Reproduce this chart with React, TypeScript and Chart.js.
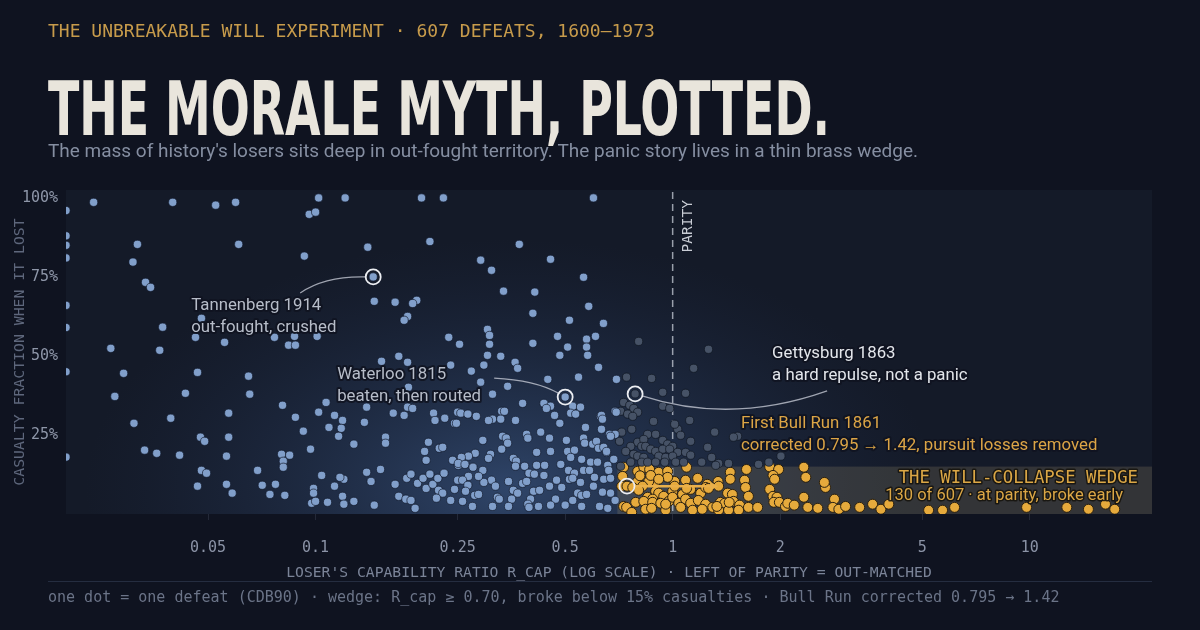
import React, { useEffect, useRef } from 'react';
import { Chart, registerables } from 'chart.js';

Chart.register(...registerables);

// ---------- text ----------
const KICKER = 'THE UNBREAKABLE WILL EXPERIMENT · 607 DEFEATS, 1600–1973';
const TITLE = 'THE MORALE MYTH, PLOTTED.';
const SUBTITLE = "The mass of history's losers sits deep in out-fought territory. The panic story lives in a thin brass wedge.";
const FOOTER = 'one dot = one defeat (CDB90) · wedge: R_cap ≥ 0.70, broke below 15% casualties · Bull Run corrected 0.795 → 1.42';
const X_TITLE = "LOSER'S CAPABILITY RATIO R_CAP (LOG SCALE) · LEFT OF PARITY = OUT-MATCHED";
const Y_TITLE = 'CASUALTY FRACTION WHEN IT LOST';
const PARITY_LABEL = 'PARITY';
const WEDGE_TITLE = 'THE WILL-COLLAPSE WEDGE';
const WEDGE_NOTE = '130 of 607 · at parity, broke early';

// ---------- axes ----------
const X_TICKS = [0.05, 0.1, 0.25, 0.5, 1, 2, 5, 10];
const X_TICK_LABELS = ['0.05', '0.1', '0.25', '0.5', '1', '2', '5', '10'];
const Y_TICKS = [25, 50, 75, 100];
const Y_TICK_LABELS = ['25%', '50%', '75%', '100%'];
const X_MIN = 0.02;
const X_MAX = 22;
const Y_MIN = 0;
const Y_MAX = 102.5;
const PARITY = 1;
const WEDGE_MIN_R = 0.7;
const WEDGE_MAX_C = 15;

// ---------- annotated battles ----------
const NOTE_TITLES = ['Tannenberg 1914', 'Waterloo 1815', 'Gettysburg 1863', 'First Bull Run 1861'];
const NOTE_LINES = ['out-fought, crushed', 'beaten, then routed', 'a hard repulse, not a panic', 'corrected 0.795 → 1.42, pursuit losses removed'];
const NOTE_R = [0.145, 0.5, 0.785, 0.745];
const NOTE_C = [75, 37, 38, 8.8];
const BULL_RUN_SHIFT_R = [0.745, 1.34];
const BULL_RUN_C = 8.8;

// ---------- defeats: [R_cap, casualty %] ----------
// out-matched losers (R_cap < 0.70)
const OUT_MATCHED: number[][] = [
  [0.02, 96], [0.02, 88], [0.02, 85], [0.02, 81], [0.02, 66], [0.02, 59], [0.02, 45], [0.02, 18],
  [0.0239, 98.6], [0.0398, 98.6], [0.0525, 97.7], [0.0597, 98.6], [0.102, 100], [0.121, 100], [0.096, 94.8], [0.1, 95.5],
  [0.0317, 85.3], [0.0609, 85.3], [0.14, 84.4], [0.093, 81.6], [0.0308, 79.7], [0.0334, 73.3], [0.0345, 71.7], [0.146, 67.3],
  [0.167, 67], [0.145, 75],
  [0.0479, 61.9], [0.0373, 59.1], [0.0461, 55.9], [0.0556, 54.3], [0.0767, 55.9], [0.0873, 56.2], [0.101, 56.2], [0.084, 53.4],
  [0.0878, 53.4], [0.0267, 52.4], [0.0366, 51.8], [0.171, 49.9], [0.153, 48.3], [0.0467, 44.8], [0.029, 44.5], [0.0649, 43.6],
  [0.0432, 38.2], [0.0654, 37.9], [0.0274, 37.2], [0.107, 35.3], [0.0808, 34.4], [0.139, 33.8], [0.0571, 31.9], [0.102, 32.2],
  [0.113, 31.2], [0.119, 29.6], [0.165, 31.9], [0.137, 29], [0.0878, 30.6], [0.0393, 30.3], [0.031, 28.7], [0.109, 27.4],
  [0.118, 27.1], [0.0924, 26.2], [0.0476, 24.3], [0.0489, 23], [0.0571, 24.3], [0.116, 24.6], [0.157, 24.3], [0.157, 22.4], [0.128, 22.1],
  [0.0332, 20.2], [0.0359, 19.2], [0.0416, 18.6], [0.0563, 18.3], [0.0803, 18.9], [0.0846, 18.6], [0.0812, 16.7], [0.0812, 14.8],
  [0.0968, 20.5], [0.0479, 13.8], [0.0495, 12.9], [0.0688, 13.8], [0.139, 13.2], [0.152, 14.1], [0.104, 12.2], [0.143, 10.3],
  [0.12, 11], [0.117, 11.6], [0.0467, 8.8], [0.0563, 9.4], [0.0584, 6.6], [0.0709, 9.1], [0.0745, 6.2], [0.0772, 9.4],
  [0.082, 5.9], [0.0987, 8.1], [0.0987, 6.6], [0.113, 8.8], [0.167, 9.4], [0.171, 5.6], [0.119, 5.6], [0.0975, 3.4],
  [0.1, 4], [0.108, 3.7], [0.12, 3.1], [0.128, 4], [0.146, 2.8],
  [0.198, 100], [0.228, 100], [0.6, 100], [0.209, 86.2], [0.372, 85.3], [0.29, 80.3], [0.455, 80.6], [0.311, 77.1],
  [0.563, 74.9], [0.336, 70.5], [0.411, 70.2], [0.192, 67.6], [0.187, 66.6], [0.582, 65.7], [0.406, 63.5], [0.181, 62.5],
  [0.177, 61.3], [0.514, 61.3], [0.64, 60.3], [0.303, 58.4], [0.307, 56.5], [0.236, 55.9], [0.253, 53.7], [0.307, 53.7],
  [0.406, 54], [0.476, 56.2], [0.508, 52.8], [0.574, 55.3], [0.608, 56.2], [0.574, 52.8], [0.303, 50.2], [0.33, 49.9],
  [0.239, 47.1], [0.273, 45.2], [0.296, 47.1], [0.362, 48], [0.368, 46.1], [0.483, 50.2], [0.578, 50.2], [0.62, 46.4],
  [0.181, 48], [0.447, 42.6], [0.545, 43.3], [0.696, 42.6], [0.345, 40.4], [0.29, 41.7], [0.313, 37.9], [0.182, 40.1], [0.5, 37],
  [0.177, 31.2], [0.181, 33.8], [0.187, 33.4], [0.214, 31.9], [0.216, 29.6], [0.23, 30.3], [0.245, 28.7], [0.25, 32.2],
  [0.207, 22.7], [0.202, 19.8], [0.222, 20.8], [0.227, 21.1], [0.204, 17], [0.242, 17], [0.251, 15.4], [0.18, 11.3],
  [0.185, 12.6], [0.193, 9.7], [0.2, 11.3], [0.204, 8.1], [0.209, 12.6], [0.213, 9.4], [0.22, 11.3], [0.229, 12.9],
  [0.221, 7.5], [0.227, 6.6], [0.218, 5], [0.179, 4.7], [0.185, 4.3], [0.19, 1.8], [0.239, 4.3], [0.245, 7.8], [0.25, 10.7],
  [0.38, 35], [0.436, 35], [0.455, 34.1], [0.525, 34.1], [0.552, 33.8], [0.255, 31.9], [0.267, 31.6], [0.282, 30.9],
  [0.313, 30], [0.305, 29.6], [0.332, 32.5], [0.338, 32.5], [0.33, 30], [0.363, 29.6], [0.443, 33.4], [0.467, 31.2],
  [0.483, 28.7], [0.518, 31.9], [0.535, 31.6], [0.628, 30.9], [0.632, 31.2], [0.69, 32.5], [0.695, 32.2], [0.248, 28.7],
  [0.39, 25.2], [0.393, 24], [0.427, 25.9], [0.452, 24], [0.57, 27.4], [0.632, 26.8], [0.666, 25.2], [0.69, 25.2],
  [0.294, 23.3], [0.334, 24.6], [0.342, 24], [0.345, 22.4], [0.332, 20.5], [0.563, 24], [0.567, 22.4], [0.597, 22.1],
  [0.612, 23], [0.504, 23.3], [0.416, 19.5], [0.455, 19.8], [0.508, 19.8], [0.531, 20.2], [0.62, 20.8], [0.653, 19.5],
  [0.28, 19.2], [0.268, 18.3], [0.256, 17.9], [0.251, 16], [0.262, 15.7], [0.309, 18.9], [0.305, 17.6], [0.358, 17.6],
  [0.365, 16.7], [0.518, 17.9], [0.556, 17.3], [0.589, 16.4], [0.616, 16.4], [0.658, 15.4], [0.416, 15.4], [0.438, 15.4],
  [0.385, 15.1], [0.486, 15.7], [0.363, 15.1], [0.276, 14.8], [0.294, 13.8], [0.511, 13.8], [0.563, 13.8], [0.585, 13.8],
  [0.531, 12.9], [0.604, 11.6], [0.662, 13.8], [0.396, 12.9], [0.41, 12.6], [0.436, 12.2], [0.311, 10.7], [0.296, 10],
  [0.286, 11.9], [0.268, 11.9], [0.258, 10.7], [0.267, 9.1], [0.347, 10.3], [0.38, 9.7], [0.39, 10.3], [0.473, 10.7],
  [0.514, 11], [0.525, 11.3], [0.552, 10], [0.641, 11], [0.67, 11.3], [0.319, 8.8], [0.358, 7.5], [0.368, 6.6],
  [0.408, 7.2], [0.424, 7.5], [0.452, 8.8], [0.489, 8.4], [0.542, 6.6], [0.556, 5.9], [0.574, 6.2], [0.6, 8.8],
  [0.636, 6.9], [0.67, 6.6], [0.263, 7.2], [0.279, 5.9], [0.286, 6.2], [0.323, 5.3], [0.327, 4.7], [0.354, 4.7],
  [0.4, 4.7], [0.47, 4.7], [0.525, 4.3], [0.258, 4], [0.275, 2.4], [0.313, 2.4], [0.347, 2.4], [0.393, 3.1],
  [0.396, 2.1], [0.421, 2.4], [0.455, 2.8], [0.5, 2.8], [0.556, 2.4], [0.624, 2.4], [0.658, 1.8], [0.69, 4.3],
  [0.636, 30], [0.67, 24.6], [0.641, 21.1], [0.653, 19.8], [0.684, 17.3],
];

// at or near parity, took more than 15% before breaking
const HELD_AT_PARITY: number[][] = [
  [0.803, 54.6], [1.26, 52.1], [1.145, 46.1], [0.743, 43.3], [0.873, 42.9], [0.938, 38.5], [1.087, 38.2], [0.785, 38],
  [0.729, 35.3], [0.758, 34.4], [0.778, 33.4], [0.798, 32.2], [0.715, 32.5], [0.748, 31.6], [0.773, 30.9], [0.938, 34.1],
  [0.981, 33.4], [0.884, 29.3], [1.116, 29.6], [0.768, 26.8], [0.72, 25.9], [0.851, 25.2], [0.896, 25.2], [0.938, 23.3],
  [1.033, 26.8], [1.053, 24.9], [1.013, 28.4], [1.311, 25.9], [1.123, 23], [0.798, 22.7], [0.83, 23.6], [0.71, 23],
  [0.763, 21.4], [0.819, 21.4], [0.84, 21.4], [0.968, 22.1], [1.0, 21.4], [0.868, 20.5], [0.896, 19.8], [0.938, 20.5],
  [0.981, 20.5], [1.033, 19.5], [1.087, 19.5], [1.253, 21.1], [1.52, 24.6], [0.739, 19.8], [0.778, 18.9], [0.798, 18.3],
  [0.83, 17.9], [0.914, 18.3], [0.956, 17.9], [1.0, 18.3], [1.123, 18.6], [1.286, 17.9], [1.345, 16], [1.434, 16],
  [1.74, 15.7], [1.86, 16.4], [2.01, 18.3], [0.763, 16.4], [0.819, 16.4], [0.851, 16.4], [0.896, 16.4], [0.95, 16.4],
  [1.02, 16.4], [1.073, 16.4], [1.206, 16.4], [0.715, 15.1], [1.48, 24.3], [1.32, 15.4],
];

// the will-collapse wedge: R_cap >= 0.70, broke below 15%
const WEDGE: number[][] = [
  [0.729, 14.8], [0.724, 11.9], [0.72, 8.8], [0.729, 2.4], [0.745, 8.8], [0.798, 13.5], [0.83, 14.8], [0.862, 14.1],
  [0.914, 13.2], [0.968, 13.5], [1.094, 14.8], [1.45, 13.2], [1.61, 14.1], [1.87, 14.9], [1.98, 14.1], [2.33, 14.8],
  [2.36, 11.6], [1.91, 12.2], [1.59, 10.7], [1.34, 10.3], [1.25, 9.4], [1.175, 11.3], [1.087, 10.7], [1.013, 10.3],
  [0.968, 11.6], [0.896, 10.3], [0.857, 10.3], [0.798, 10.3], [0.824, 8.8], [0.773, 8.4], [0.803, 7.5], [0.896, 7.2],
  [0.914, 6.6], [0.944, 5.6], [0.851, 5.3], [0.879, 4.7], [1.0, 7.2], [1.066, 6.2], [1.123, 7.8], [1.198, 6.6],
  [1.237, 8.4], [1.345, 8.8], [1.425, 6.6], [1.47, 6.2], [1.6, 8.4], [1.63, 5.6], [1.87, 7.8], [1.91, 5.6],
  [1.96, 5.3], [2.68, 8.4], [2.66, 10], [0.788, 3.7], [0.83, 4], [0.879, 3.7], [0.926, 3.4], [0.975, 4],
  [1.0, 5.3], [1.04, 3.4], [1.087, 4.7], [1.123, 3.4], [1.18, 4.3], [1.237, 3.1], [1.295, 2.1], [1.36, 3.7],
  [1.4, 3.4], [1.48, 4], [1.54, 2.8], [1.63, 2.1], [1.73, 2.1], [1.92, 3.7], [1.99, 3.7], [2.07, 2.4],
  [2.1, 3.4], [2.19, 2.8], [2.33, 5.3], [2.39, 2.1], [2.55, 1.8], [2.84, 4.7], [2.81, 2.1], [2.92, 1.5],
  [3.05, 2.4], [3.34, 2.1], [3.63, 3.1], [0.743, 2.1], [0.84, 1.5], [0.956, 1.2], [1.053, 2.1], [1.137, 1.2],
  [1.21, 1.5], [1.345, 1.2], [1.434, 1.2], [1.53, 1.2], [0.868, 12.2], [3.83, 1.5], [4.03, 3.1], [5.21, 1.2],
  [5.7, 1.2], [6.16, 2.1], [9.8, 2.1], [12.7, 2.1], [14.6, 1.5], [16.3, 3.1], [17.3, 1.5], [0.81, 12.1],
  [0.914, 11], [1.013, 8.8], [1.094, 8.1], [1.26, 8.1], [1.45, 11], [1.93, 11], [1.44, 3.7], [1.33, 2.4],
  [0.956, 3.1], [0.873, 1.8], [0.768, 0.5],
];

// ---------- style ----------
const PAGE_BG = '#0f1320';
const PANEL_BG = '#141a28';
const BLUE = '#819fca';
const DIM = '#465266';
const GOLD = '#e6aa3c';
const MONO = '"DejaVu Sans Mono", "Liberation Mono", monospace';
const SANS = 'Roboto, "Noto Sans", "Open Sans", sans-serif';

const NOTE_STYLE = [
  { dx: -182, dy: 29, color: '#b7bdc9', path: [[-73, 16], [-48, -1], [-8, 0]] },
  { dx: -228, dy: -22, color: '#b7bdc9', path: [[-71, -19], [-30, -17], [-7, -4]] },
  { dx: 137, dy: -40, color: '#e3e6eb', path: [[7, 2], [96, 31], [192, -3]] },
  { dx: 114, dy: -62, color: '#dca546', path: null },
];

function haloText(ctx: CanvasRenderingContext2D, text: string, x: number, y: number, fill: string, halo: string, w: number) {
  ctx.lineJoin = 'round';
  ctx.strokeStyle = halo;
  ctx.lineWidth = w;
  ctx.strokeText(text, x, y);
  ctx.fillStyle = fill;
  ctx.fillText(text, x, y);
}

const decor = {
  id: 'decor',
  beforeDraw(chart: any) {
    const { ctx, chartArea: a, scales } = chart;
    ctx.save();
    ctx.fillStyle = PAGE_BG;
    ctx.fillRect(0, 0, chart.width, chart.height);
    ctx.fillStyle = PANEL_BG;
    ctx.fillRect(a.left, a.top, a.right - a.left, a.bottom - a.top);

    // blue glow under the dense cloud
    ctx.save();
    ctx.beginPath();
    ctx.rect(a.left, a.top, a.right - a.left, a.bottom - a.top);
    ctx.clip();
    const gx = scales.x.getPixelForValue(0.35);
    const gy = a.bottom - 25;
    ctx.translate(gx, gy);
    ctx.scale(1.7, 1);
    const g = ctx.createRadialGradient(0, 0, 0, 0, 0, 250);
    g.addColorStop(0, 'rgba(74,112,170,0.5)');
    g.addColorStop(0.5, 'rgba(58,88,138,0.24)');
    g.addColorStop(1, 'rgba(40,60,100,0)');
    ctx.fillStyle = g;
    ctx.fillRect(-500, -500, 1000, 1000);
    ctx.restore();

    // header
    ctx.textAlign = 'left';
    ctx.textBaseline = 'middle';
    ctx.fillStyle = '#c79b4b';
    ctx.font = '18px ' + MONO;
    ctx.fillText(KICKER, 48, 32);

    ctx.save();
    ctx.font = '700 75px "Liberation Sans Narrow", "DejaVu Sans Condensed", "DejaVu Sans", sans-serif';
    ctx.textBaseline = 'alphabetic';
    const tw = ctx.measureText(TITLE).width;
    ctx.translate(48, 135);
    ctx.scale(782 / tw, 1);
    ctx.fillStyle = '#e9e5dc';
    ctx.fillText(TITLE, 0, 0);
    ctx.restore();

    ctx.save();
    ctx.font = '19px ' + SANS;
    const sw = ctx.measureText(SUBTITLE).width;
    ctx.translate(48, 152);
    ctx.scale(870 / sw, 1);
    ctx.fillStyle = '#858ea1';
    ctx.fillText(SUBTITLE, 0, 0);
    ctx.restore();

    // footer rule + note
    ctx.strokeStyle = '#252d40';
    ctx.lineWidth = 1;
    ctx.beginPath();
    ctx.moveTo(48, 581.5);
    ctx.lineTo(a.right, 581.5);
    ctx.stroke();
    ctx.fillStyle = '#6b7488';
    ctx.font = '15px ' + MONO;
    ctx.fillText(FOOTER, 48, 598);
    ctx.restore();
  },
  beforeDatasetsDraw(chart: any) {
    const { ctx, chartArea: a, scales } = chart;
    const x = scales.x, y = scales.y;
    ctx.save();
    const wx = x.getPixelForValue(WEDGE_MIN_R);
    const wy = y.getPixelForValue(WEDGE_MAX_C);
    ctx.fillStyle = 'rgba(150,136,104,0.24)';
    ctx.fillRect(wx, wy, a.right - wx, a.bottom - wy);
    const px = x.getPixelForValue(PARITY);
    ctx.setLineDash([7, 5]);
    ctx.strokeStyle = 'rgba(205,210,220,0.72)';
    ctx.lineWidth = 1.5;
    ctx.beginPath();
    ctx.moveTo(px, a.top + 2);
    ctx.lineTo(px, a.bottom);
    ctx.stroke();
    ctx.restore();
  },
  afterDatasetsDraw(chart: any) {
    const { ctx, chartArea: a, scales } = chart;
    const x = scales.x, y = scales.y;
    ctx.save();

    // PARITY label
    const px = x.getPixelForValue(PARITY);
    ctx.save();
    ctx.translate(px + 16, a.top + 10);
    ctx.rotate(-Math.PI / 2);
    ctx.textAlign = 'right';
    ctx.textBaseline = 'middle';
    ctx.font = '14.5px ' + MONO;
    ctx.fillStyle = '#c9cdd5';
    ctx.fillText(PARITY_LABEL, 0, 0);
    ctx.restore();

    // Bull Run correction arrow
    const bx0 = x.getPixelForValue(BULL_RUN_SHIFT_R[0]);
    const bx1 = x.getPixelForValue(BULL_RUN_SHIFT_R[1]);
    const by = y.getPixelForValue(BULL_RUN_C);
    ctx.strokeStyle = '#eab04a';
    ctx.fillStyle = '#eab04a';
    ctx.lineWidth = 2.6;
    ctx.beginPath();
    ctx.moveTo(bx0 + 8, by);
    ctx.lineTo(bx1 - 6, by);
    ctx.stroke();
    ctx.beginPath();
    ctx.moveTo(bx1, by);
    ctx.lineTo(bx1 - 8, by - 4.5);
    ctx.lineTo(bx1 - 8, by + 4.5);
    ctx.closePath();
    ctx.fill();

    // annotations
    NOTE_TITLES.forEach((t, i) => {
      const cx = x.getPixelForValue(NOTE_R[i]);
      const cy = y.getPixelForValue(NOTE_C[i]);
      const st = NOTE_STYLE[i];
      if (st.path) {
        ctx.strokeStyle = 'rgba(205,210,220,0.75)';
        ctx.lineWidth = 1.3;
        ctx.beginPath();
        ctx.moveTo(cx + st.path[0][0], cy + st.path[0][1]);
        ctx.quadraticCurveTo(cx + st.path[1][0], cy + st.path[1][1], cx + st.path[2][0], cy + st.path[2][1]);
        ctx.stroke();
      }
      ctx.strokeStyle = '#eceef2';
      ctx.lineWidth = 1.8;
      ctx.beginPath();
      ctx.arc(cx, cy, 7.5, 0, Math.PI * 2);
      ctx.stroke();

      ctx.font = '16.8px ' + SANS;
      ctx.textAlign = 'left';
      ctx.textBaseline = 'middle';
      haloText(ctx, t, cx + st.dx, cy + st.dy, st.color, 'rgba(15,19,32,0.85)', 4);
      haloText(ctx, NOTE_LINES[i], cx + st.dx, cy + st.dy + 22, st.color, 'rgba(15,19,32,0.85)', 4);
    });

    // wedge labels
    const wy = y.getPixelForValue(WEDGE_MAX_C);
    ctx.textAlign = 'right';
    ctx.textBaseline = 'middle';
    ctx.font = '17.3px ' + MONO;
    haloText(ctx, WEDGE_TITLE, a.right - 14, wy + 12, '#dba746', 'rgba(22,20,14,0.9)', 3);
    ctx.font = '16.5px ' + SANS;
    haloText(ctx, WEDGE_NOTE, a.right - 29, wy + 29, '#dba746', 'rgba(22,20,14,0.9)', 3);

    ctx.restore();
  },
};

export default function App() {
  const ref = useRef<HTMLCanvasElement | null>(null);

  useEffect(() => {
    document.body.style.margin = '0';
    document.body.style.background = PAGE_BG;
    const canvas = ref.current;
    if (!canvas) return;
    const toPts = (arr: number[][]) => arr.map((p) => ({ x: p[0], y: p[1] }));
    const chart = new Chart(canvas, {
      type: 'scatter',
      data: {
        datasets: [
          {
            label: 'out-matched',
            data: toPts(OUT_MATCHED),
            pointRadius: 4.1,
            pointBackgroundColor: BLUE,
            pointBorderColor: 'rgba(16,24,42,0.85)',
            pointBorderWidth: 0.8,
            clip: 0,
          } as any,
          {
            label: 'held at parity',
            data: toPts(HELD_AT_PARITY),
            pointRadius: 4.1,
            pointBackgroundColor: DIM,
            pointBorderColor: 'rgba(16,22,34,0.9)',
            pointBorderWidth: 0.8,
            clip: 0,
          } as any,
          {
            label: 'will-collapse wedge',
            data: toPts(WEDGE),
            pointRadius: 5,
            pointBackgroundColor: GOLD,
            pointBorderColor: '#2a2010',
            pointBorderWidth: 1,
            clip: 0,
          } as any,
        ],
      },
      options: {
        responsive: false,
        animation: false,
        events: [],
        devicePixelRatio: 1,
        layout: { padding: { left: 8, right: 48, top: 190, bottom: 48 } },
        plugins: { legend: { display: false }, tooltip: { enabled: false } },
        scales: {
          x: {
            type: 'logarithmic',
            min: X_MIN,
            max: X_MAX,
            afterBuildTicks: (s: any) => {
              s.ticks = X_TICKS.map((v) => ({ value: v }));
            },
            afterFit: (s: any) => {
              s.height = 68;
            },
            ticks: {
              autoSkip: false,
              maxRotation: 0,
              padding: 19,
              color: '#8b93a6',
              font: { family: MONO, size: 15 },
              callback: (v: any, i: number) => X_TICK_LABELS[i] ?? String(v),
            },
            grid: {
              display: true,
              drawOnChartArea: false,
              drawTicks: true,
              tickLength: 6,
              tickColor: 'rgba(150,160,185,0.16)',
              color: 'rgba(0,0,0,0)',
            },
            border: { display: false },
            title: {
              display: true,
              text: X_TITLE,
              color: '#7b8498',
              font: { family: MONO, size: 14.7 },
              padding: { top: 0, bottom: 0 },
            },
          },
          y: {
            type: 'linear',
            min: Y_MIN,
            max: Y_MAX,
            afterBuildTicks: (s: any) => {
              s.ticks = Y_TICKS.map((v) => ({ value: v }));
            },
            afterFit: (s: any) => {
              s.width = 58;
            },
            ticks: {
              padding: 8,
              color: '#8e96a8',
              font: { family: MONO, size: 15 },
              callback: (v: any, i: number) => Y_TICK_LABELS[i] ?? String(v),
            },
            grid: { display: false, drawTicks: false },
            border: { display: false },
            title: {
              display: true,
              text: Y_TITLE,
              color: '#5e677c',
              font: { family: MONO, size: 14.8 },
              padding: { top: 3, bottom: 0 },
            },
          },
        },
      },
      plugins: [decor],
    } as any);
    return () => chart.destroy();
  }, []);

  return (
    <div style={{ position: 'fixed', left: 0, top: 0, width: 1200, height: 630, background: PAGE_BG }}>
      <canvas ref={ref} width={1200} height={630} style={{ display: 'block', width: 1200, height: 630 }} />
    </div>
  );
}
